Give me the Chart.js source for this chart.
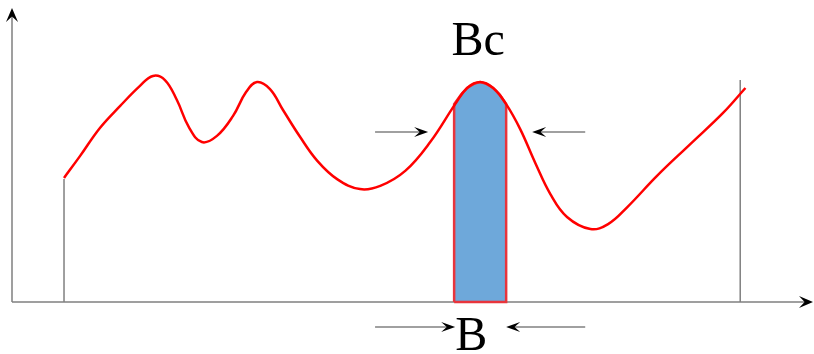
<!DOCTYPE html>
<html>
<head>
<meta charset="utf-8">
<script src="https://cdn.jsdelivr.net/npm/chart.js@4"></script>
<style>
  html, body { margin: 0; padding: 0; background: #fff; }
  #wrap { width: 814px; height: 354px; }
</style>
</head>
<body>
<div id="wrap"><canvas id="chart"></canvas></div>
<script>
// ------------------------
// DATA
// ------------------------

// response curve
const curveX = [1.0, 1.31, 1.69, 2.08, 2.46, 2.71, 2.94, 3.17, 3.40, 3.65, 3.94, 4.25, 4.50, 4.71,
                4.96, 5.21, 5.54, 5.87, 6.25, 6.69, 7.08, 7.56, 8.04, 8.52, 8.75, 9.0, 9.25,
                9.5, 9.77, 10.06, 10.35, 10.67, 11.12, 11.46, 11.83, 12.4, 13.04, 13.67, 14.1];
const curveY = [42.2, 49.7, 59.2, 66.7, 73.5, 76.9, 75.5, 68.7, 59.5, 54.4, 56.5, 63.3, 71.4, 74.8,
                72.4, 65.3, 56.1, 48.0, 41.8, 38.4, 39.5, 44.6, 54.4, 67.3, 72.8, 74.8, 72.8,
                67.3, 58.8, 47.3, 36.7, 28.9, 24.8, 26.5, 32.3, 42.9, 53.7, 64.3, 72.8];

// shaded band B around the centre
const bandX = [8.5, 8.5, 8.63, 8.75, 8.88, 9.0, 9.12, 9.25, 9.38, 9.5, 9.5, 8.5];
const bandY = [0, 67.3, 70.5, 72.8, 74.2, 74.8, 74.2, 72.8, 70.5, 67.3, 0, 0];

// vertical limits of the range
const edgeX = [1, 14];
const edgeTop = [41.8, 75.5];

// labels: text, x, baseline y
const labelText = ['Bc', 'B'];
const labelX = [8.96, 8.83];
const labelY = [84, -16.3];

// width arrows: [fromX, toX, y]
const arrowFrom = [6.98, 11.02, 6.98, 11.02];
const arrowTo = [8.0, 10.0, 8.52, 9.5];
const arrowY = [57.8, 57.8, -8.5, -8.5];

const X_MAX = 15.38;
const Y_MAX = 100;

// ------------------------
// HELPERS
// ------------------------

function zip(xs, ys) {
    return xs.map((x, i) => ({ x, y: ys[i] }));
}

function arrowHead(ctx, x, y, dx, dy, len, wid) {
    const px = -dy, py = dx;
    ctx.beginPath();
    ctx.moveTo(x, y);
    ctx.lineTo(x - dx * len + px * wid, y - dy * len + py * wid);
    ctx.lineTo(x - dx * len * 0.6, y - dy * len * 0.6);
    ctx.lineTo(x - dx * len - px * wid, y - dy * len - py * wid);
    ctx.closePath();
    ctx.fillStyle = '#000';
    ctx.fill();
}

// ------------------------
// DECORATION PLUGIN
// ------------------------

const decor = {
    id: 'decor',
    beforeDatasetsDraw(chart) {
        const { ctx, scales: { x, y } } = chart;
        ctx.save();
        ctx.strokeStyle = '#808080';
        ctx.lineWidth = 1.5;

        const x0 = x.getPixelForValue(0);
        const y0 = y.getPixelForValue(0);

        // axes
        ctx.beginPath();
        ctx.moveTo(x0, y0);
        ctx.lineTo(x0, y.getPixelForValue(Y_MAX) + 8);
        ctx.moveTo(x0, y0);
        ctx.lineTo(x.getPixelForValue(X_MAX) - 6, y0);
        ctx.stroke();

        // range edges
        ctx.beginPath();
        edgeX.forEach((v, i) => {
            ctx.moveTo(x.getPixelForValue(v), y0);
            ctx.lineTo(x.getPixelForValue(v), y.getPixelForValue(edgeTop[i]));
        });
        ctx.stroke();
        ctx.restore();
    },
    afterDatasetsDraw(chart) {
        const { ctx, scales: { x, y } } = chart;
        ctx.save();

        const x0 = x.getPixelForValue(0);
        const y0 = y.getPixelForValue(0);
        arrowHead(ctx, x0, y.getPixelForValue(Y_MAX), 0, -1, 14, 6);
        arrowHead(ctx, x.getPixelForValue(X_MAX) + 1, y0, 1, 0, 14, 6);

        // width arrows
        arrowFrom.forEach((f, i) => {
            const a = x.getPixelForValue(f);
            const b = x.getPixelForValue(arrowTo[i]);
            const py = y.getPixelForValue(arrowY[i]);
            const dir = b > a ? 1 : -1;
            ctx.strokeStyle = '#808080';
            ctx.lineWidth = 1.5;
            ctx.beginPath();
            ctx.moveTo(a, py);
            ctx.lineTo(b - dir * 6, py);
            ctx.stroke();
            arrowHead(ctx, b, py, dir, 0, 14, 5);
        });

        // labels
        ctx.fillStyle = '#000';
        ctx.font = '48px "Liberation Serif", "DejaVu Serif", serif';
        ctx.textAlign = 'center';
        ctx.textBaseline = 'alphabetic';
        labelText.forEach((t, i) => {
            ctx.fillText(t, x.getPixelForValue(labelX[i]), y.getPixelForValue(labelY[i]));
        });
        ctx.restore();
    }
};

// ------------------------
// CHART
// ------------------------

new Chart(document.getElementById('chart'), {
    type: 'scatter',
    data: {
        datasets: [
            {
                label: 'response',
                data: zip(curveX, curveY),
                showLine: true,
                borderColor: '#ff0000',
                borderWidth: 2.5,
                pointRadius: 0,
                tension: 0.4,
                fill: false,
                clip: false,
                order: 0
            },
            {
                label: 'band',
                data: zip(bandX, bandY),
                showLine: true,
                borderColor: '#e8343c',
                borderWidth: 2.5,
                backgroundColor: '#6ea8da',
                pointRadius: 0,
                tension: 0,
                fill: 'shape',
                clip: false,
                order: 1
            }
        ]
    },
    options: {
        responsive: true,
        maintainAspectRatio: false,
        animation: false,
        events: [],
        layout: { padding: { left: 12, right: 2, top: 8, bottom: 52 } },
        plugins: { legend: { display: false }, tooltip: { enabled: false } },
        scales: {
            x: { type: 'linear', min: 0, max: X_MAX, display: false },
            y: { type: 'linear', min: 0, max: Y_MAX, display: false }
        }
    },
    plugins: [decor]
});
</script>
</body>
</html>
